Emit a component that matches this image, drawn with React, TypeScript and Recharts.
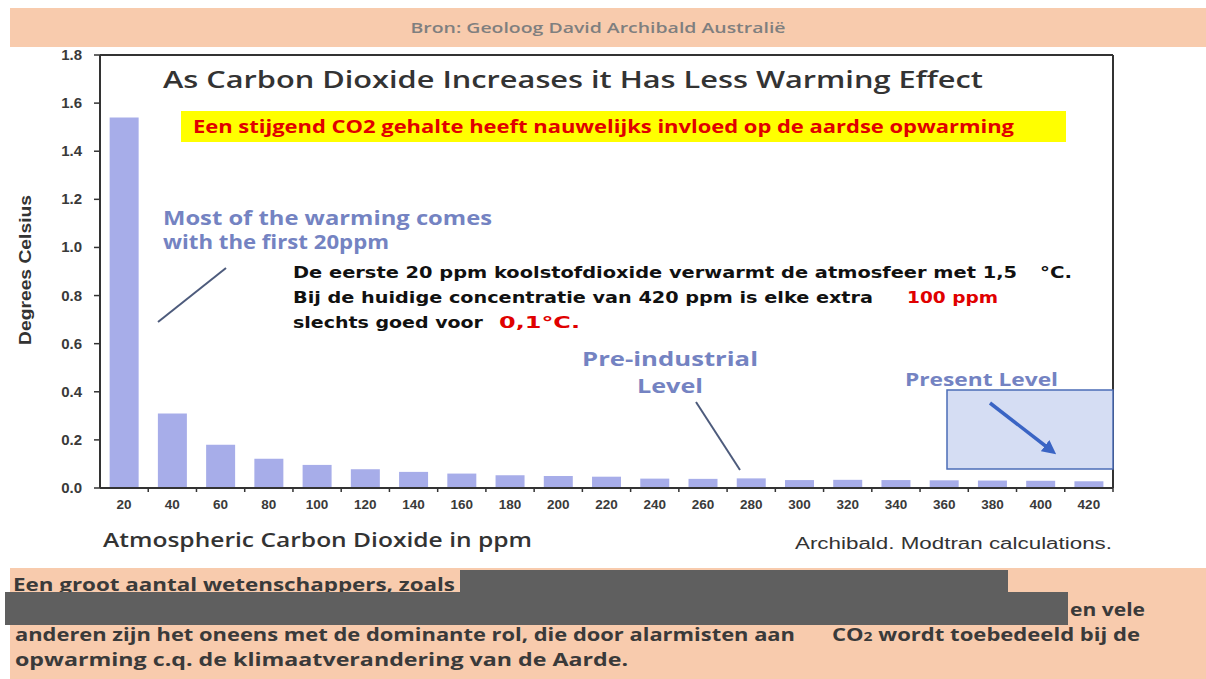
import React from 'react';
import { BarChart, Bar, XAxis, YAxis } from 'recharts';

// CO2 concentration steps (ppm) and warming per step (degrees C)
const ppmSteps = ['20', '40', '60', '80', '100', '120', '140', '160', '180', '200', '220', '240', '260', '280', '300', '320', '340', '360', '380', '400', '420'];
const warmingPerStep = [1.54, 0.31, 0.18, 0.122, 0.096, 0.078, 0.067, 0.06, 0.053, 0.05, 0.047, 0.039, 0.038, 0.04, 0.033, 0.034, 0.033, 0.032, 0.031, 0.03, 0.028];
const yTicks = [0, 0.2, 0.4, 0.6, 0.8, 1.0, 1.2, 1.4, 1.6, 1.8];

const data = ppmSteps.map((p, i) => ({ ppm: p, value: warmingPerStep[i] }));

const W = 1206;
const H = 679;
const PLOT_LEFT = 100;
const PLOT_RIGHT = 1113;
const BAND = (PLOT_RIGHT - PLOT_LEFT) / ppmSteps.length;

const AXIS = '#333';
const BAR = '#a7ade9';
const PEACH = '#f8cbad';
const NOTE_BLUE = '#7483c2';
const TICK_FONT = "'Liberation Sans', Arial, sans-serif";
const ROUND_FONT = "'Open Sans', 'DejaVu Sans', sans-serif";
const VERDANA = "'DejaVu Sans', Verdana, sans-serif";

// x tick: label under the bar plus a small mark on the boundary to its right
const XTick = ({ x, y, payload }: any) => (
  <g>
    <line x1={x + BAND / 2} x2={x + BAND / 2} y1={y - 8} y2={y - 4} stroke={AXIS} strokeWidth={1.5} />
    <text x={x} y={y + 13} textAnchor="middle" fontFamily={TICK_FONT} fontWeight="bold" fontSize={13.5} fill="#3a3a3a">
      {payload.value}
    </text>
  </g>
);

const YTick = ({ x, y, payload }: any) => (
  <text x={x} y={y + 5} textAnchor="end" fontFamily={TICK_FONT} fontWeight="bold" fontSize={15} fill="#3a3a3a">
    {Number(payload.value).toFixed(1)}
  </text>
);

const Overlay = () => (
  <svg width={W} height={H} style={{ position: 'absolute', left: 0, top: 0, pointerEvents: 'none' }}>
    <defs>
      <marker id="arrowBlue" markerWidth="4" markerHeight="4" refX="2.5" refY="2" orient="auto">
        <path d="M0,0 L4,2 L0,4 z" fill="#3a64c4" />
      </marker>
    </defs>

    {/* header band */}
    <rect x={10} y={8} width={W - 10} height={39} fill={PEACH} />
    <text x={598} y={33} textAnchor="middle" fontFamily={ROUND_FONT} fontWeight={600} fontSize={15} fill="#7f7f7f" textLength={375} lengthAdjust="spacingAndGlyphs">
      Bron: Geoloog David Archibald  Australië
    </text>

    {/* titles */}
    <text x={163} y={88} fontFamily={ROUND_FONT} fontWeight={600} fontSize={23} fill="#333" textLength={820} lengthAdjust="spacingAndGlyphs">
      As Carbon Dioxide Increases it Has Less Warming Effect
    </text>
    <rect x={181} y={111} width={885} height={31} fill="#ffff00" />
    <text x={193} y={133} fontFamily={ROUND_FONT} fontWeight="bold" fontSize={17} fill="#e00000" textLength={821} lengthAdjust="spacingAndGlyphs">
      Een stijgend CO2 gehalte heeft nauwelijks invloed op de aardse opwarming
    </text>

    {/* y axis label */}
    <text transform="translate(31,270) rotate(-90)" textAnchor="middle" fontFamily="'Liberation Sans Narrow', 'Liberation Sans', sans-serif" fontWeight="bold" fontSize={17} fill="#333" textLength={150} lengthAdjust="spacingAndGlyphs">
      Degrees Celsius
    </text>

    {/* first 20ppm note */}
    <text x={163} y={225} fontFamily={ROUND_FONT} fontWeight="bold" fontSize={19} fill={NOTE_BLUE} textLength={329} lengthAdjust="spacingAndGlyphs">
      Most of the warming comes
    </text>
    <text x={163} y={249} fontFamily={ROUND_FONT} fontWeight="bold" fontSize={19} fill={NOTE_BLUE} textLength={226} lengthAdjust="spacingAndGlyphs">
      with the first 20ppm
    </text>
    <line x1={226} y1={268} x2={158} y2={322} stroke="#4d5b7c" strokeWidth={2} />

    {/* dutch explanation */}
    <text x={293} y={278} fontFamily={VERDANA} fontWeight="bold" fontSize={15} fill="#111" textLength={724} lengthAdjust="spacingAndGlyphs">
      De eerste 20 ppm koolstofdioxide verwarmt de atmosfeer met 1,5
    </text>
    <text x={1040} y={278} fontFamily={VERDANA} fontWeight="bold" fontSize={15} fill="#111" textLength={32} lengthAdjust="spacingAndGlyphs">°C.</text>
    <text x={293} y={303} fontFamily={VERDANA} fontWeight="bold" fontSize={15} fill="#111" textLength={580} lengthAdjust="spacingAndGlyphs">
      Bij de huidige concentratie van 420 ppm is elke extra
    </text>
    <text x={907} y={303} fontFamily={VERDANA} fontWeight="bold" fontSize={15} fill="#e00000" textLength={91} lengthAdjust="spacingAndGlyphs">100 ppm</text>
    <text x={293} y={328} fontFamily={VERDANA} fontWeight="bold" fontSize={15} fill="#111" textLength={190} lengthAdjust="spacingAndGlyphs">
      slechts goed voor
    </text>
    <text x={499} y={328} fontFamily={VERDANA} fontWeight="bold" fontSize={15} fill="#e00000" textLength={81} lengthAdjust="spacingAndGlyphs">0,1°C.</text>

    {/* pre-industrial */}
    <text x={670} y={366} textAnchor="middle" fontFamily={ROUND_FONT} fontWeight="bold" fontSize={19} fill={NOTE_BLUE} textLength={176} lengthAdjust="spacingAndGlyphs">
      Pre-industrial
    </text>
    <text x={670} y={393} textAnchor="middle" fontFamily={ROUND_FONT} fontWeight="bold" fontSize={19} fill={NOTE_BLUE} textLength={66} lengthAdjust="spacingAndGlyphs">Level</text>
    <line x1={696} y1={402} x2={740} y2={470} stroke="#4d5b7c" strokeWidth={2} />

    {/* present level */}
    <text x={905} y={386} fontFamily={ROUND_FONT} fontWeight="bold" fontSize={18} fill={NOTE_BLUE} textLength={153} lengthAdjust="spacingAndGlyphs">
      Present Level
    </text>
    <rect x={947} y={390} width={166} height={79} fill="#d5ddf3" stroke="#4b6cb7" strokeWidth={1.5} />
    <line x1={990} y1={403} x2={1052} y2={451} stroke="#3a64c4" strokeWidth={3.5} markerEnd="url(#arrowBlue)" />

    {/* x axis captions */}
    <text x={103} y={547} fontFamily={ROUND_FONT} fontWeight={600} fontSize={19} fill="#333" textLength={429} lengthAdjust="spacingAndGlyphs">
      Atmospheric Carbon Dioxide in ppm
    </text>
    <text x={1112} y={549} textAnchor="end" fontFamily="'Liberation Sans Narrow', 'Liberation Sans', sans-serif" fontSize={16} fill="#333" textLength={317} lengthAdjust="spacingAndGlyphs">
      Archibald. Modtran calculations.
    </text>

    {/* footer band */}
    <rect x={10} y={568} width={W - 10} height={H - 568} fill={PEACH} />
    <text x={13} y={591} fontFamily={ROUND_FONT} fontWeight="bold" fontSize={17} fill="#3a3a3a" textLength={442} lengthAdjust="spacingAndGlyphs">
      Een groot aantal wetenschappers, zoals
    </text>
    <rect x={460} y={570} width={548} height={22} fill="#5f5f5f" />
    <rect x={5} y={592} width={1063} height={33} fill="#5f5f5f" />
    <text x={1070} y={616} fontFamily={ROUND_FONT} fontWeight="bold" fontSize={17} fill="#3a3a3a" textLength={75} lengthAdjust="spacingAndGlyphs">
      en vele
    </text>
    <text x={15} y={641} fontFamily={ROUND_FONT} fontWeight="bold" fontSize={17} fill="#3a3a3a" textLength={780} lengthAdjust="spacingAndGlyphs">
      anderen zijn het oneens met de dominante rol, die door alarmisten aan
    </text>
    <text x={832} y={641} fontFamily={ROUND_FONT} fontWeight="bold" fontSize={17} fill="#3a3a3a" textLength={308} lengthAdjust="spacingAndGlyphs">
      CO<tspan fontSize={12}>2</tspan> wordt toebedeeld bij de
    </text>
    <text x={15} y={666} fontFamily={ROUND_FONT} fontWeight="bold" fontSize={17} fill="#3a3a3a" textLength={613} lengthAdjust="spacingAndGlyphs">
      opwarming c.q. de klimaatverandering van de Aarde.
    </text>
  </svg>
);

export default function App() {
  return (
    <div style={{ position: 'absolute', left: 0, top: 0, width: W, height: H, background: '#fff' }}>
      <BarChart width={W} height={H} data={data} margin={{ top: 54, right: W - PLOT_RIGHT - 1, bottom: 161, left: 50 }} barCategoryGap="20%">
        <XAxis
          dataKey="ppm"
          height={30}
          interval={0}
          axisLine={{ stroke: AXIS, strokeWidth: 2 }}
          tickLine={false}
          tick={<XTick />}
        />
        <XAxis xAxisId="top" dataKey="ppm" orientation="top" height={1} tick={false} tickLine={false} axisLine={{ stroke: AXIS, strokeWidth: 2 }} />
        <YAxis
          width={50}
          domain={[0, 1.8]}
          ticks={yTicks}
          interval={0}
          axisLine={{ stroke: AXIS, strokeWidth: 2 }}
          tickLine={{ stroke: AXIS, strokeWidth: 1.5 }}
          tickSize={6}
          tickMargin={12}
          tick={<YTick />}
        />
        <YAxis yAxisId="right" orientation="right" width={1} domain={[0, 1.8]} tick={false} tickLine={false} axisLine={{ stroke: AXIS, strokeWidth: 2 }} />
        <Bar dataKey="value" fill={BAR} isAnimationActive={false} />
        {/* invisible twin series so the frame axes (top / right) are drawn */}
        <Bar dataKey="value" xAxisId="top" yAxisId="right" fill="none" stroke="none" isAnimationActive={false} />
      </BarChart>
      <Overlay />
    </div>
  );
}
